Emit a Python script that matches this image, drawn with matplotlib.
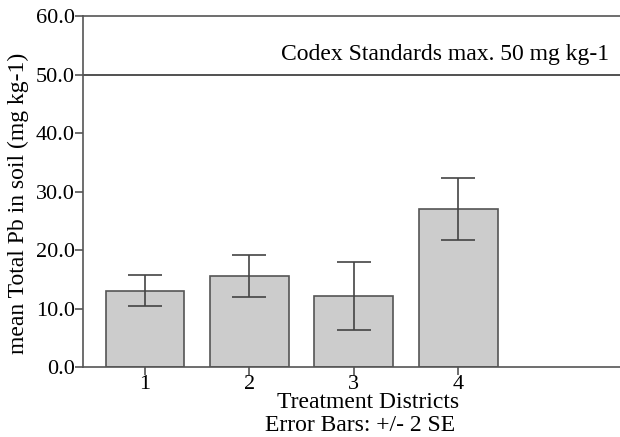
import numpy as np
from matplotlib import pyplot as plt

districts = ["1", "2", "3", "4"]
mean_pb = [13.05, 15.55, 12.15, 27.1]
err_2se = [2.65, 3.55, 5.85, 5.3]
codex_max = 50.0

plt.rcParams['font.family'] = ['Liberation Serif', 'DejaVu Serif']

fig = plt.figure(figsize=(6.2, 4.37), dpi=100)
ax = fig.add_axes([0.134, 0.160, 0.866, 0.803])

x = np.arange(1, len(districts) + 1)
ax.bar(x, mean_pb, width=0.756, color='#cccccc', edgecolor='#555555', linewidth=1.2, zorder=2)
ax.errorbar(x, mean_pb, yerr=err_2se, fmt='none', ecolor='#444444', elinewidth=1.2,
            capsize=12, capthick=1.2, zorder=3)

# codex limit line
ax.axhline(codex_max, color='#333333', linewidth=1.2, zorder=1)
ax.text(3.87, 53.4, 'Codex Standards max. 50 mg kg-1', ha='center', va='center', fontsize=17)

ax.set_xlim(0.407, 5.55)
ax.set_ylim(0, 60)
ax.set_yticks(np.arange(0, 61, 10))
ax.set_yticklabels(['%.1f' % v for v in np.arange(0, 61, 10)])
ax.set_xticks(x)
ax.set_xticklabels(districts)
ax.tick_params(axis='both', labelsize=16, length=6, width=1.2, color='#555555', pad=0)

ax.spines['right'].set_visible(False)
for side in ['left', 'top', 'bottom']:
    ax.spines[side].set_color('#555555')
    ax.spines[side].set_linewidth(1.2)

fig.text(0.029, 0.535, 'mean Total Pb in soil (mg kg-1)', rotation=90, ha='center', va='center', fontsize=17)
fig.text(0.594, 0.080, 'Treatment Districts', ha='center', va='center', fontsize=17)
fig.text(0.581, 0.026, 'Error Bars: +/- 2 SE', ha='center', va='center', fontsize=17)

plt.savefig('out.png', dpi=100)
